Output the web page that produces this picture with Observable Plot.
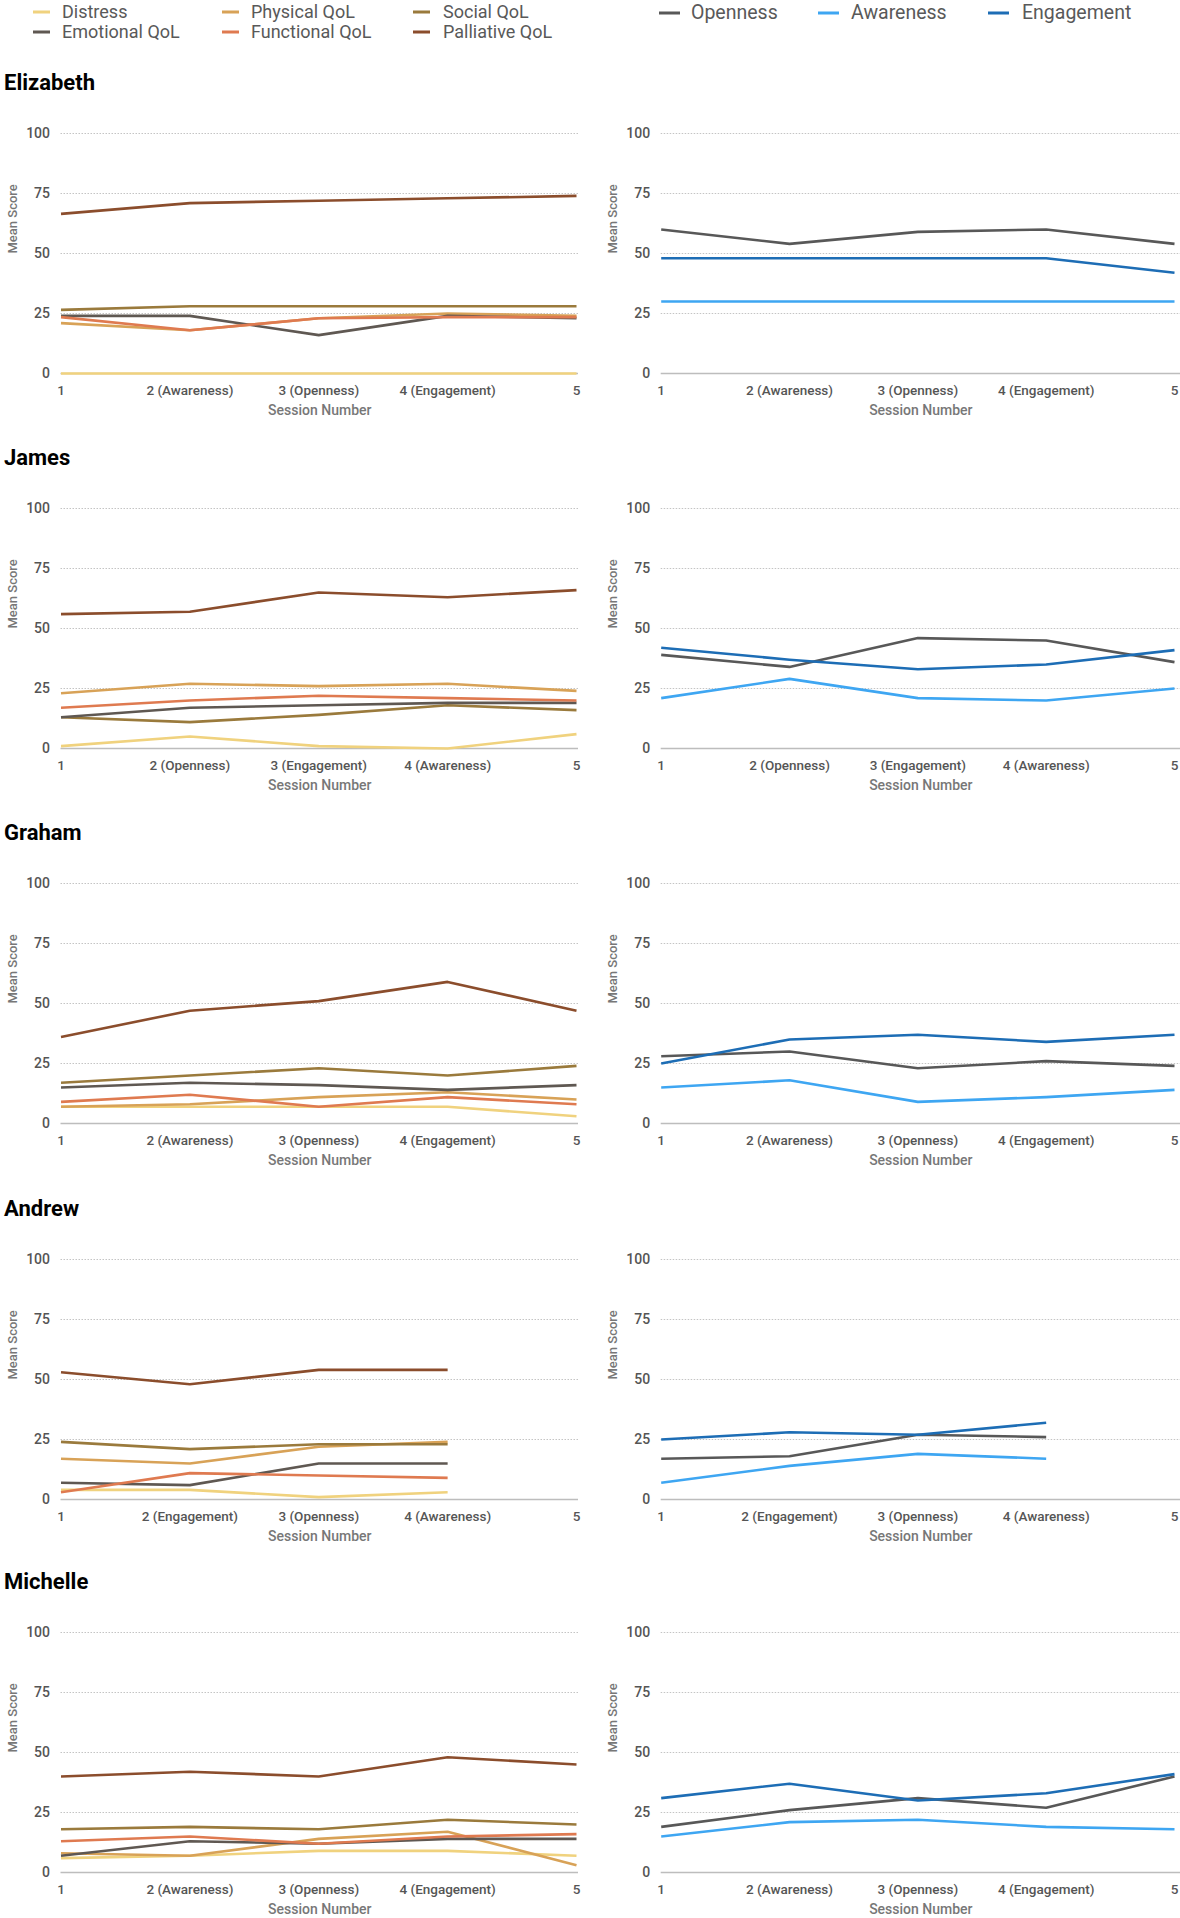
<!DOCTYPE html>
<html><head><meta charset="utf-8">
<script src="https://cdn.jsdelivr.net/npm/d3@7"></script>
<script src="https://cdn.jsdelivr.net/npm/@observablehq/plot@0.6"></script>
<style>
html,body{margin:0;padding:0;background:#fff;}
#root{position:relative;width:1180px;height:1918px;overflow:hidden;font-family:Roboto,"DejaVu Sans",sans-serif;}
.leg{position:absolute;white-space:nowrap;color:#595959;transform:translateY(-50%);line-height:1.2;}
.sw{position:absolute;height:3px;transform:translateY(-50%);}
.title{position:absolute;font-weight:700;font-size:22px;color:#000;transform:translateY(-50%);line-height:1;white-space:nowrap;}
.panel{position:absolute;}
.panel svg{overflow:visible;}
</style></head><body><div id="root"></div><script>
// ---------- data ----------
const people = ["Elizabeth", "James", "Graham", "Andrew", "Michelle"];
const qolSeries = ["Distress", "Physical QoL", "Social QoL", "Emotional QoL", "Functional QoL", "Palliative QoL"];
const qolColors = ["#f0d27e", "#d8a257", "#9a7a3c", "#5f5852", "#df7a50", "#8b4d2c"];
const processSeries = ["Openness", "Awareness", "Engagement"];
const processColors = ["#585858", "#3ea6f2", "#1d6db5"];
const yTicks = [0, 25, 50, 75, 100];
const sessionNumbers = [1, 2, 3, 4, 5];

const elizabethSessions = ["1", "2 (Awareness)", "3 (Openness)", "4 (Engagement)", "5"];
const jamesSessions = ["1", "2 (Openness)", "3 (Engagement)", "4 (Awareness)", "5"];
const grahamSessions = ["1", "2 (Awareness)", "3 (Openness)", "4 (Engagement)", "5"];
const andrewSessions = ["1", "2 (Engagement)", "3 (Openness)", "4 (Awareness)", "5"];
const michelleSessions = ["1", "2 (Awareness)", "3 (Openness)", "4 (Engagement)", "5"];

// QoL rows in qolSeries order
const elizabethQoL = [
  [0, 0, 0, 0, 0],
  [21, 18, 23, 25, 24],
  [26.5, 28, 28, 28, 28],
  [24, 24, 16, 24, 23],
  [23.5, 18, 23, 23.5, 23.5],
  [66.5, 71, 72, 73, 74]
];
const jamesQoL = [
  [1, 5, 1, 0, 6],
  [23, 27, 26, 27, 24],
  [13, 11, 14, 18, 16],
  [13, 17, 18, 19, 19],
  [17, 20, 22, 21, 20],
  [56, 57, 65, 63, 66]
];
const grahamQoL = [
  [7, 7, 7, 7, 3],
  [7, 8, 11, 13, 10],
  [17, 20, 23, 20, 24],
  [15, 17, 16, 14, 16],
  [9, 12, 7, 11, 8],
  [36, 47, 51, 59, 47]
];
const andrewQoL = [
  [4, 4, 1, 3],
  [17, 15, 22, 24],
  [24, 21, 23, 23],
  [7, 6, 15, 15],
  [3, 11, 10, 9],
  [53, 48, 54, 54]
];
const michelleQoL = [
  [6, 7, 9, 9, 7],
  [8, 7, 14, 17, 3],
  [18, 19, 18, 22, 20],
  [7, 13, 12, 14, 14],
  [13, 15, 12, 15, 16],
  [40, 42, 40, 48, 45]
];

// Process rows in processSeries order
const elizabethProcess = [
  [60, 54, 59, 60, 54],
  [30, 30, 30, 30, 30],
  [48, 48, 48, 48, 42]
];
const jamesProcess = [
  [39, 34, 46, 45, 36],
  [21, 29, 21, 20, 25],
  [42, 37, 33, 35, 41]
];
const grahamProcess = [
  [28, 30, 23, 26, 24],
  [15, 18, 9, 11, 14],
  [25, 35, 37, 34, 37]
];
const andrewProcess = [
  [17, 18, 27, 26],
  [7, 14, 19, 17],
  [25, 28, 27, 32]
];
const michelleProcess = [
  [19, 26, 31, 27, 40],
  [15, 21, 22, 19, 18],
  [31, 37, 30, 33, 41]
];

const sessionLabels = [elizabethSessions, jamesSessions, grahamSessions, andrewSessions, michelleSessions];
const qolData = [elizabethQoL, jamesQoL, grahamQoL, andrewQoL, michelleQoL];
const processData = [elizabethProcess, jamesProcess, grahamProcess, andrewProcess, michelleProcess];

// ---------- layout ----------
const root = document.getElementById("root");
const plotTops = [133, 508, 883, 1258.5, 1632]; // y of the 100 gridline
const plotH = 240, mTop = 10, mBottom = 56;

function tidy(rows, series) {
  const out = [];
  rows.forEach((vals, si) => vals.forEach((v, i) => out.push({series: series[si], session: sessionNumbers[i], value: v})));
  return out;
}

function panel(rows, series, colors, labels, side) {
  const left = side === "left";
  const ml = left ? 60.5 : 70.7;
  const mr = left ? 12 : 0;
  const inset = left ? 2 : 6;
  return Plot.plot({
    width: 590,
    height: mTop + plotH + mBottom,
    marginTop: mTop, marginBottom: mBottom, marginLeft: ml, marginRight: mr,
    style: {fontFamily: "Roboto, sans-serif", fontSize: "13.5px", color: "#595959", background: "transparent", overflow: "visible"},
    x: {domain: [1, 5], insetRight: inset, insetLeft: 0},
    y: {domain: [0, 100]},
    color: {domain: series, range: colors},
    marks: [
      Plot.gridY(yTicks.filter(d => d > 0), {stroke: "#c4c4c4", strokeOpacity: 1, strokeDasharray: "1.5,1.5", strokeWidth: 1}),
      Plot.ruleY([0], {stroke: "#bdbdbd", strokeWidth: 1.5}),
      Plot.axisY(yTicks, {tickSize: 0, tickPadding: 11, label: null, fill: "#555555", fontWeight: 500, fontSize: 14}),
      Plot.axisX(sessionNumbers, {tickSize: 0, tickPadding: 12, label: null, tickFormat: d => labels[d - 1], fill: "#555555", fontWeight: 500, fontSize: 13.5}),
      Plot.text(["Session Number"], {text: d => d, frameAnchor: "bottom", dy: 41, fill: "#777777", fontSize: 14, fontWeight: 500}),
      Plot.text(["Mean Score"], {text: d => d, frameAnchor: "left", rotate: -90, dx: -(ml - (left ? 12.6 : 22.8)), fill: "#777777", fontSize: 13, fontWeight: 500}),
      Plot.line(tidy(rows, series), {x: "session", y: "value", stroke: "series", z: "series", strokeWidth: 2.6, strokeLinecap: "butt", strokeLinejoin: "round"})
    ]
  });
}

people.forEach((name, i) => {
  const t = document.createElement("div");
  t.className = "title";
  t.textContent = name;
  t.style.left = "4px";
  t.style.top = (plotTops[i] - 50) + "px";
  root.appendChild(t);

  const lp = document.createElement("div");
  lp.className = "panel";
  lp.style.left = "0px";
  lp.style.top = (plotTops[i] - mTop) + "px";
  lp.appendChild(panel(qolData[i], qolSeries, qolColors, sessionLabels[i], "left"));
  root.appendChild(lp);

  const rp = document.createElement("div");
  rp.className = "panel";
  rp.style.left = "590px";
  rp.style.top = (plotTops[i] - mTop) + "px";
  rp.appendChild(panel(processData[i], processSeries, processColors, sessionLabels[i], "right"));
  root.appendChild(rp);
});

// ---------- legends ----------
function legendItem(label, color, swX, swW, textX, y, fs) {
  const s = document.createElement("div");
  s.className = "sw";
  s.style.left = swX + "px";
  s.style.width = swW + "px";
  s.style.top = y + "px";
  s.style.background = color;
  root.appendChild(s);
  const t = document.createElement("div");
  t.className = "leg";
  t.style.left = textX + "px";
  t.style.top = y + "px";
  t.style.fontSize = fs + "px";
  t.textContent = label;
  root.appendChild(t);
}
// left legend: 3 columns x 2 rows (row-major order of qolSeries)
const qolLegCols = [[33, 62], [222, 251], [413, 443]];
const qolLegRows = [12, 32];
qolSeries.forEach((s, k) => {
  const c = k % 3, r = Math.floor(k / 3);
  legendItem(s, qolColors[k], qolLegCols[c][0], 17, qolLegCols[c][1], qolLegRows[r], 18);
});
const procLegCols = [[659, 691], [818, 851], [988, 1022]];
processSeries.forEach((s, k) => {
  legendItem(s, processColors[k], procLegCols[k][0], 21, procLegCols[k][1], 13, 19.5);
});
</script></body></html>
